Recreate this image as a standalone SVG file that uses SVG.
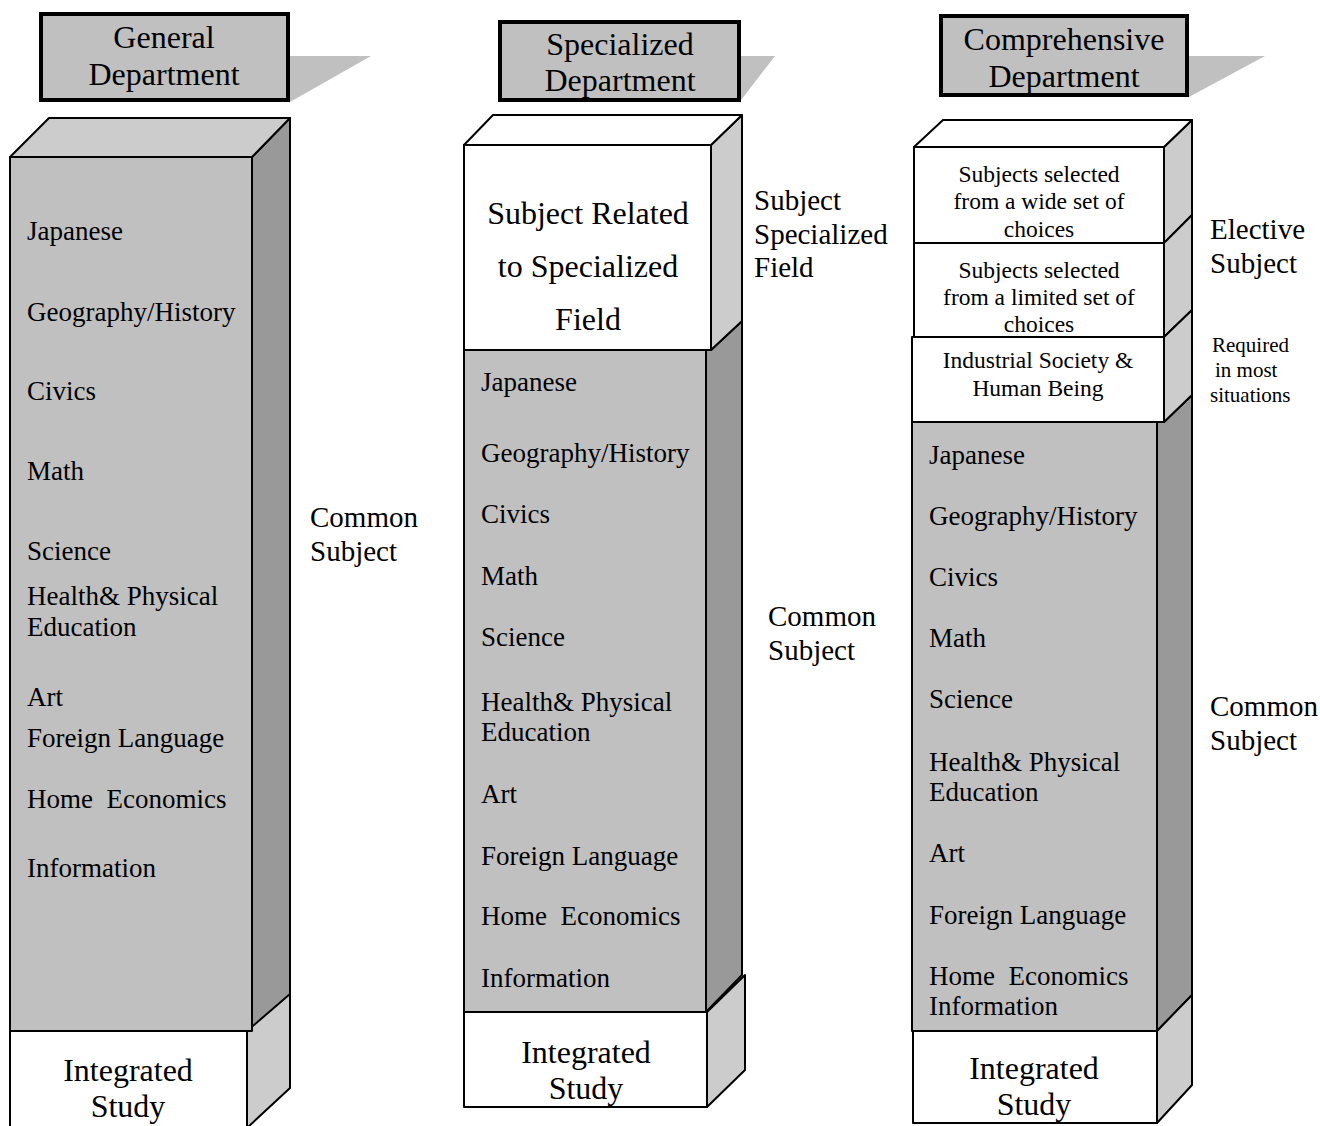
<svg xmlns="http://www.w3.org/2000/svg" width="1320" height="1126" viewBox="0 0 1320 1126">
<style>
text{font-family:"Liberation Serif","Times New Roman",serif;fill:#000}
.hd{font-size:32px;text-anchor:middle}
.li{font-size:27px}
.lb{font-size:29px}
.it{font-size:32px;text-anchor:middle}
.sm{font-size:23.5px;text-anchor:middle}
.rq{font-size:21px}
.hbox{fill:#c0c0c0;stroke:#000;stroke-width:4}
.shadow{fill:#c0c0c0;stroke:none}
.f{stroke:#000;stroke-width:2;stroke-linejoin:round}
.g{fill:#c0c0c0}
.w{fill:#fff}
.t{fill:#cccccc}
.d{fill:#999999}
</style>
<rect width="1320" height="1126" fill="#fff"/>

<g id="general">
<polygon class="shadow" points="290,56 371,56 290,102"/>
<rect class="hbox" x="41" y="14" width="247" height="86"/>
<text class="hd" x="164" y="48">General</text>
<text class="hd" x="164" y="85">Department</text>
<polygon class="f d" points="252,157 290,118 290,995 252,1031"/>
<polygon class="f t" points="247,1031 290,994 290,1088 247,1128"/>
<polygon class="f t" points="10,157 49,118 290,118 252,157"/>
<rect class="f g" x="10" y="157" width="242" height="874"/>
<rect class="f w" x="10" y="1031" width="237" height="100"/>
<text class="li" x="27" y="240">Japanese</text>
<text class="li" x="27" y="321">Geography/History</text>
<text class="li" x="27" y="400">Civics</text>
<text class="li" x="27" y="480">Math</text>
<text class="li" x="27" y="560">Science</text>
<text class="li" x="27" y="605">Health&amp; Physical</text>
<text class="li" x="27" y="636">Education</text>
<text class="li" x="27" y="706">Art</text>
<text class="li" x="27" y="747">Foreign Language</text>
<text class="li" x="27" y="808" xml:space="preserve">Home  Economics</text>
<text class="li" x="27" y="877">Information</text>
<text class="it" x="128" y="1081">Integrated</text>
<text class="it" x="128" y="1117">Study</text>
</g>

<g id="specialized">
<polygon class="shadow" points="741,56 775,56 741,100"/>
<rect class="hbox" x="500" y="22" width="239" height="78"/>
<text class="hd" x="620" y="55">Specialized</text>
<text class="hd" x="620" y="91">Department</text>
<polygon class="f d" points="706,350 711,350 742,321 742,975 706,1012"/>
<polygon class="f t" points="711,145 742,115 742,321 711,350"/>
<polygon class="f t" points="707,1012 745,975 745,1070 707,1107"/>
<polygon class="f w" points="464,145 493,115 742,115 711,145"/>
<rect class="f w" x="464" y="145" width="247" height="205"/>
<rect class="f g" x="464" y="350" width="242" height="662"/>
<rect class="f w" x="464" y="1012" width="243" height="95"/>
<text class="it" x="588" y="224">Subject Related</text>
<text class="it" x="588" y="277">to Specialized</text>
<text class="it" x="588" y="330">Field</text>
<text class="li" x="481" y="391">Japanese</text>
<text class="li" x="481" y="462">Geography/History</text>
<text class="li" x="481" y="523">Civics</text>
<text class="li" x="481" y="585">Math</text>
<text class="li" x="481" y="646">Science</text>
<text class="li" x="481" y="711">Health&amp; Physical</text>
<text class="li" x="481" y="741">Education</text>
<text class="li" x="481" y="803">Art</text>
<text class="li" x="481" y="865">Foreign Language</text>
<text class="li" x="481" y="925" xml:space="preserve">Home  Economics</text>
<text class="li" x="481" y="987">Information</text>
<text class="it" x="586" y="1063">Integrated</text>
<text class="it" x="586" y="1099">Study</text>
</g>

<g id="comprehensive">
<polygon class="shadow" points="1189,56 1265,56 1189,97"/>
<rect class="hbox" x="941" y="16" width="246" height="79"/>
<text class="hd" x="1064" y="50">Comprehensive</text>
<text class="hd" x="1064" y="87">Department</text>
<polygon class="f d" points="1157,422 1164,422 1192,395 1192,995 1157,1031"/>
<polygon class="f t" points="1164,147 1192,120 1192,215 1164,243"/>
<polygon class="f t" points="1164,243 1192,215 1192,310 1164,337"/>
<polygon class="f t" points="1164,337 1192,310 1192,395 1164,422"/>
<polygon class="f t" points="1157,1031 1192,995 1192,1085 1157,1123"/>
<polygon class="f w" points="914,147 943,120 1192,120 1164,147"/>
<rect class="f w" x="914" y="147" width="250" height="96"/>
<rect class="f w" x="914" y="243" width="250" height="94"/>
<rect class="f w" x="912" y="337" width="252" height="85"/>
<rect class="f g" x="912" y="422" width="245" height="609"/>
<rect class="f w" x="913" y="1031" width="244" height="92"/>
<text class="sm" x="1039" y="182">Subjects selected</text>
<text class="sm" x="1039" y="209">from a wide set of</text>
<text class="sm" x="1039" y="237">choices</text>
<text class="sm" x="1039" y="278">Subjects selected</text>
<text class="sm" x="1039" y="305">from a limited set of</text>
<text class="sm" x="1039" y="332">choices</text>
<text class="sm" x="1038" y="368">Industrial Society &amp;</text>
<text class="sm" x="1038" y="396">Human Being</text>
<text class="li" x="929" y="464">Japanese</text>
<text class="li" x="929" y="525">Geography/History</text>
<text class="li" x="929" y="586">Civics</text>
<text class="li" x="929" y="647">Math</text>
<text class="li" x="929" y="708">Science</text>
<text class="li" x="929" y="771">Health&amp; Physical</text>
<text class="li" x="929" y="801">Education</text>
<text class="li" x="929" y="862">Art</text>
<text class="li" x="929" y="924">Foreign Language</text>
<text class="li" x="929" y="985" xml:space="preserve">Home  Economics</text>
<text class="li" x="929" y="1015">Information</text>
<text class="it" x="1034" y="1079">Integrated</text>
<text class="it" x="1034" y="1115">Study</text>
</g>

<g id="labels">
<text class="lb" x="310" y="527">Common</text>
<text class="lb" x="310" y="561">Subject</text>
<text class="lb" x="754" y="210">Subject</text>
<text class="lb" x="754" y="244">Specialized</text>
<text class="lb" x="754" y="277">Field</text>
<text class="lb" x="768" y="626">Common</text>
<text class="lb" x="768" y="660">Subject</text>
<text class="lb" x="1210" y="239">Elective</text>
<text class="lb" x="1210" y="273">Subject</text>
<text class="rq" x="1212" y="352">Required</text>
<text class="rq" x="1215" y="377">in most</text>
<text class="rq" x="1210" y="402">situations</text>
<text class="lb" x="1210" y="716">Common</text>
<text class="lb" x="1210" y="750">Subject</text>
</g>

<g id="connectors"></g>
</svg>
